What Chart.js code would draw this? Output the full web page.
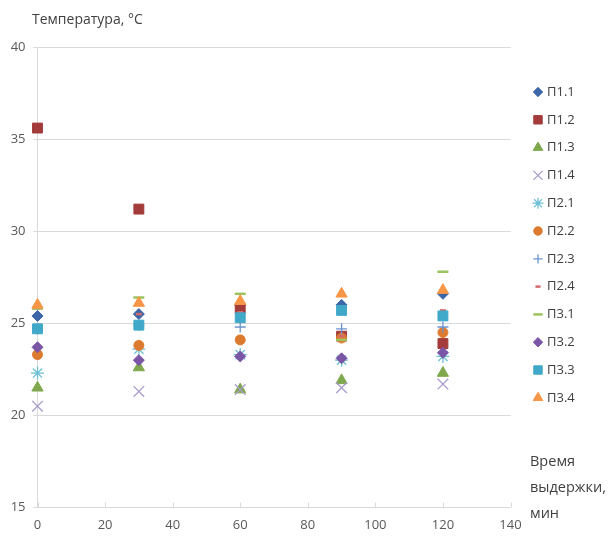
<!DOCTYPE html>
<html>
<head>
<meta charset="utf-8">
<script src="https://cdn.jsdelivr.net/npm/chart.js@4/dist/chart.umd.min.js"></script>
<style>
    html, body { margin: 0; padding: 0; background: #fff; }
    #wrap { width: 614px; height: 538px; position: relative; }
</style>
</head>
<body>
<div id="wrap"><canvas id="chart" width="614" height="538"></canvas></div>
<script>
// ----- DATA -----
const times = [0, 30, 60, 90, 120];
const seriesNames = ['П1.1', 'П1.2', 'П1.3', 'П1.4', 'П2.1', 'П2.2', 'П2.3', 'П2.4', 'П3.1', 'П3.2', 'П3.3', 'П3.4'];

const p11 = [25.4, 25.5, 26.0, 26.0, 26.6];
const p12 = [35.6, 31.2, 25.8, 24.3, 23.9];
const p13 = [21.5, 22.6, 21.4, 21.9, 22.3];
const p14 = [20.5, 21.3, 21.4, 21.5, 21.7];
const p21 = [22.3, 23.6, 23.3, 23.0, 23.2];
const p22 = [23.3, 23.8, 24.1, 24.2, 24.5];
const p23 = [24.7, 24.9, 24.8, 24.7, 24.8];
const p24 = [25.8, 25.5, 25.6, 24.3, 25.7];
const p31 = [25.8, 26.4, 26.6, 24.1, 27.8];
const p32 = [23.7, 23.0, 23.2, 23.1, 23.4];
const p33 = [24.7, 24.9, 25.3, 25.7, 25.4];
const p34 = [26.0, 26.1, 26.2, 26.6, 26.8];

const yTicks = [15, 20, 25, 30, 35, 40];
const xTicks = [0, 20, 40, 60, 80, 100, 120, 140];

// ----- STYLES -----
const FONT = '"Open Sans", "Liberation Sans", sans-serif';
const styles = [
    { color: '#3d66a9', style: 'rectRot',  r: 5.5, bw: 1 },
    { color: '#a33b3b', style: 'rect',     r: 7,   bw: 1 },
    { color: '#7fa84c', style: 'triangle', r: 6.5, bw: 1 },
    { color: '#a99bcb', style: 'crossRot', r: 7.5, bw: 1.3 },
    { color: '#6cc0d8', style: 'star',     r: 6.5, bw: 1.3 },
    { color: '#dc7b30', style: 'circle',   r: 5,   bw: 1 },
    { color: '#6c94d4', style: 'cross',    r: 5.5, bw: 1.3 },
    { color: '#d26a6a', style: 'line',     r: 3,   bw: 2.5 },
    { color: '#9dc35e', style: 'line',     r: 5.5, bw: 2.5 },
    { color: '#7b56a7', style: 'rectRot',  r: 5.5, bw: 1 },
    { color: '#40a8c8', style: 'rect',     r: 7,   bw: 1 },
    { color: '#f79646', style: 'triangle', r: 6.5, bw: 1 }
];
const allSeries = [p11, p12, p13, p14, p21, p22, p23, p24, p31, p32, p33, p34];

const datasets = allSeries.map((vals, i) => ({
    label: seriesNames[i],
    data: times.map((t, j) => ({ x: t, y: vals[j] })),
    pointStyle: styles[i].style,
    pointRadius: styles[i].r,
    pointHoverRadius: styles[i].r,
    pointBorderWidth: styles[i].bw,
    backgroundColor: styles[i].color,
    borderColor: styles[i].color,
    showLine: false,
    clip: false,
    order: allSeries.length - i
}));

// legend + axis titles + inner x ticks
const extras = {
    id: 'extras',
    afterDraw(chart) {
        const ctx = chart.ctx;
        const xs = chart.scales.x;
        const area = chart.chartArea;
        ctx.save();

        // x tick marks pointing up
        ctx.strokeStyle = '#d9d9d9';
        ctx.lineWidth = 1;
        xTicks.forEach(v => {
            const px = Math.round(xs.getPixelForValue(v)) + 0.5;
            ctx.beginPath();
            ctx.moveTo(px, area.bottom);
            ctx.lineTo(px, area.bottom - 5);
            ctx.stroke();
        });

        // titles
        ctx.fillStyle = '#404040';
        ctx.font = '14px ' + FONT;
        ctx.textBaseline = 'middle';
        ctx.textAlign = 'left';
        ctx.fillText('Температура, °C', 32, 20);
        ctx.font = '14.5px ' + FONT;
        ctx.fillText('Время', 530, 462);
        ctx.fillText('выдержки,', 530, 488);
        ctx.fillText('мин', 530, 514);

        // legend
        const drawPoint = Chart.helpers && Chart.helpers.drawPoint;
        ctx.font = '13px ' + FONT;
        seriesNames.forEach((name, i) => {
            const y = 92 + i * 27.8;
            const s = styles[i];
            ctx.fillStyle = s.color;
            ctx.strokeStyle = s.color;
            ctx.lineWidth = s.bw;
            if (drawPoint) {
                drawPoint(ctx, { pointStyle: s.style, radius: s.r * 0.85, borderWidth: s.bw, rotation: 0 }, 538, y);
            } else {
                ctx.beginPath();
                ctx.arc(538, y, 4, 0, Math.PI * 2);
                ctx.fill();
            }
            ctx.fillStyle = '#404040';
            ctx.fillText(name, 547, y);
        });
        ctx.restore();
    }
};

new Chart(document.getElementById('chart').getContext('2d'), {
    type: 'scatter',
    data: { datasets },
    options: {
        responsive: false,
        animation: false,
        events: [],
        layout: { padding: { left: 0, top: 47, right: 103.5, bottom: 0 } },
        plugins: {
            legend: { display: false },
            tooltip: { enabled: false }
        },
        scales: {
            x: {
                type: 'linear',
                min: 0,
                max: 140,
                afterBuildTicks: s => { s.ticks = xTicks.map(v => ({ value: v })); },
                afterFit: s => { s.height = 30.5; },
                grid: { display: false, drawTicks: true, tickLength: 4 },
                border: { display: false },
                ticks: { color: '#595959', font: { family: FONT, size: 13 }, padding: 6 }
            },
            y: {
                type: 'linear',
                min: 15,
                max: 40,
                afterBuildTicks: s => { s.ticks = yTicks.map(v => ({ value: v })); },
                afterFit: s => { s.width = 37.5; },
                grid: { color: '#d9d9d9', lineWidth: 1, tickLength: 4 },
                border: { display: true, color: '#d9d9d9' },
                ticks: { color: '#595959', font: { family: FONT, size: 13 }, padding: 8 }
            }
        }
    },
    plugins: [extras]
});
</script>
</body>
</html>
